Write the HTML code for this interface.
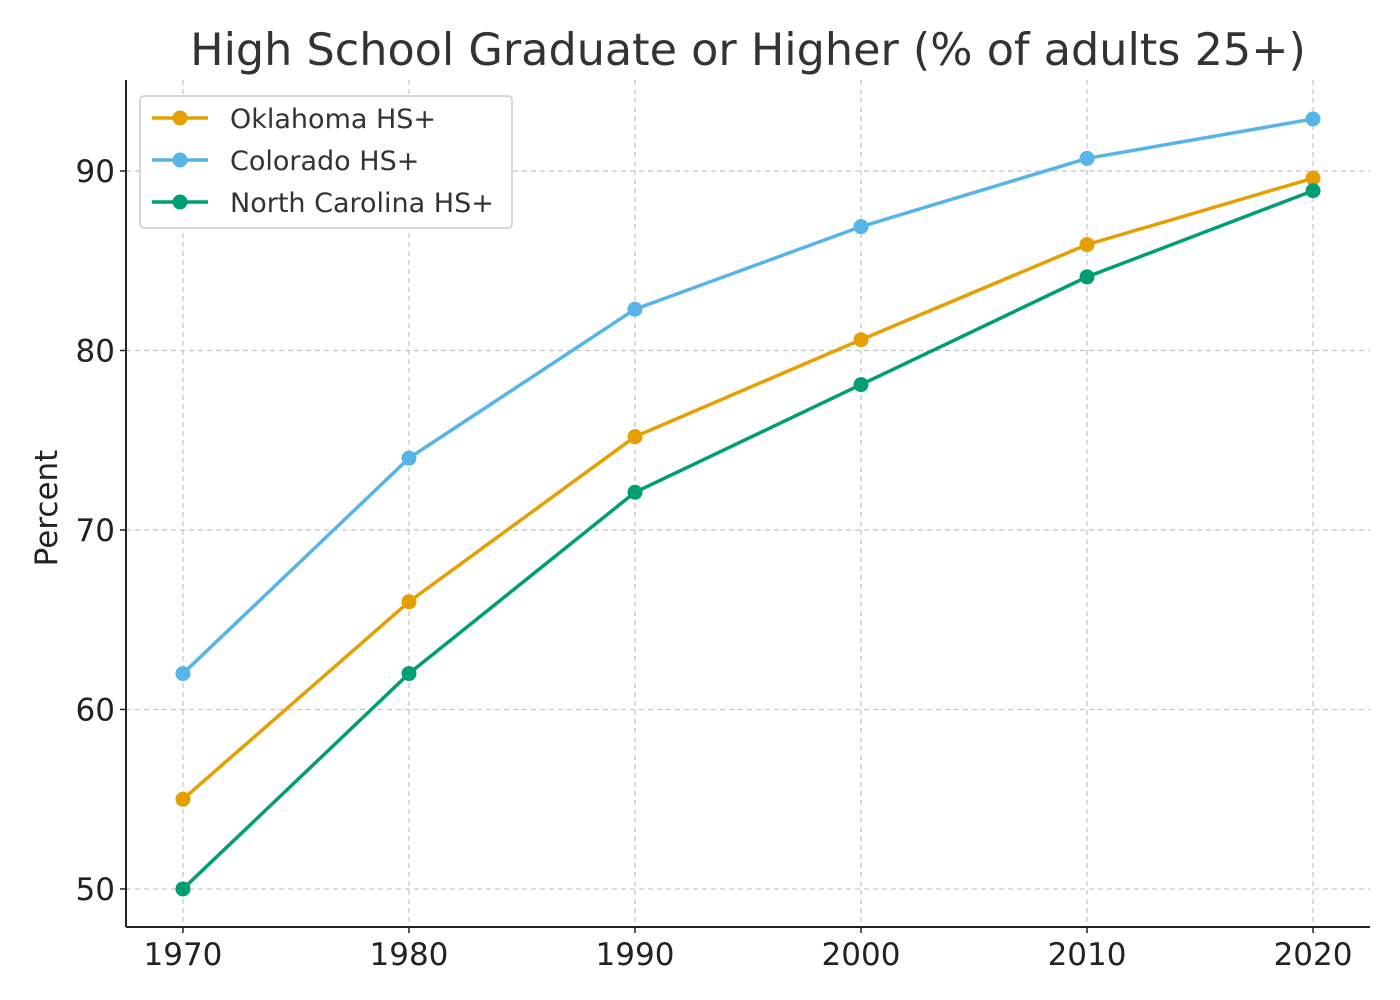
<!DOCTYPE html>
<html><head><meta charset="utf-8"><style>
body{margin:0;background:#fff;}
svg{display:block;font-family:"DejaVu Sans","Liberation Sans",sans-serif;}
</style></head><body>
<svg id="chart" width="1400" height="1000">
<text x="748" y="65" text-anchor="middle" font-size="44.5" fill="#333">High School Graduate or Higher (% of adults 25+)</text>
<g id="grid"></g>
<g id="axes"></g>
<g id="series"></g>
<text transform="translate(57,508) rotate(-90)" text-anchor="middle" font-size="31" fill="#222">Percent</text>
<g>
<rect x="140" y="96" width="372" height="132" rx="4" fill="#fff" stroke="#ccc" stroke-width="1.5"/>
<g id="legend-items"></g>
</g>
</svg>
<script>
const years=[1970,1980,1990,2000,2010,2020];
const oklahoma=[55,66,75.2,80.6,85.9,89.6];
const colorado=[62,74,82.3,86.9,90.7,92.9];
const northCarolina=[50,62,72.1,78.1,84.1,88.9];
const yTicks=[50,60,70,80,90];
const seriesNames=["Oklahoma HS+","Colorado HS+","North Carolina HS+"];
const NS="http://www.w3.org/2000/svg";
const L=126,R=1370,T=80,B=927;
const xMin=1967.48,xMax=2022.52,yMin=47.88,yMax=95.07;
const xs=v=>L+(v-xMin)/(xMax-xMin)*(R-L);
const ys=v=>B-(v-yMin)/(yMax-yMin)*(B-T);
function mk(tag,attrs,parent){const e=document.createElementNS(NS,tag);for(const k in attrs)e.setAttribute(k,attrs[k]);parent.appendChild(e);return e;}
const grid=document.getElementById('grid'),axes=document.getElementById('axes'),ser=document.getElementById('series');
years.forEach(y=>{
 const g=mk('line',{x1:xs(y),x2:xs(y),y1:T,y2:B,stroke:'#c4c4c4','stroke-dasharray':'5,4','stroke-width':1.2},grid);
 
 
 mk('line',{x1:xs(y),x2:xs(y),y1:B,y2:B+6,stroke:'#222','stroke-width':1.5},axes);
 const t=mk('text',{x:xs(y),y:B+38,'text-anchor':'middle','font-size':31,fill:'#222'},axes);t.textContent=y;
 
 
});
yTicks.forEach(v=>{
 const g=mk('line',{x1:L,x2:R,y1:ys(v),y2:ys(v),stroke:'#c4c4c4','stroke-dasharray':'5,4','stroke-width':1.2},grid);
 
 
 mk('line',{x1:L-6,x2:L,y1:ys(v),y2:ys(v),stroke:'#222','stroke-width':1.5},axes);
 const t=mk('text',{x:L-11,y:ys(v)+11,'text-anchor':'end','font-size':31,fill:'#222'},axes);t.textContent=v;
 
 
});
const la=mk('line',{x1:L,x2:L,y1:T,y2:B,stroke:'#222','stroke-width':2},axes);


const ba=mk('line',{x1:L,x2:R,y1:B,y2:B,stroke:'#222','stroke-width':2},axes);


const colors=['#E69F00','#56B4E9','#009E73'];
const data=[oklahoma,colorado,northCarolina];
data.forEach((d,i)=>{
 const p=mk('polyline',{points:d.map((v,j)=>xs(years[j])+','+ys(v)).join(' '),fill:'none',stroke:colors[i],'stroke-width':3.5},ser);
 
 
 d.forEach((v,j)=>{const c=mk('circle',{cx:xs(years[j]),cy:ys(v),r:7.5,fill:colors[i]},ser);
  
  });
});
const li=document.getElementById('legend-items');
seriesNames.forEach((n,i)=>{
 const y=118+i*42;
 mk('line',{x1:152,x2:208,y1:y,y2:y,stroke:colors[i],'stroke-width':3.5},li);
 mk('circle',{cx:180,cy:y,r:7.5,fill:colors[i]},li);
 const t=mk('text',{x:230,y:y+10,'font-size':27,fill:'#333'},li);t.textContent=n;
 
 
});
</script>
</body></html>
